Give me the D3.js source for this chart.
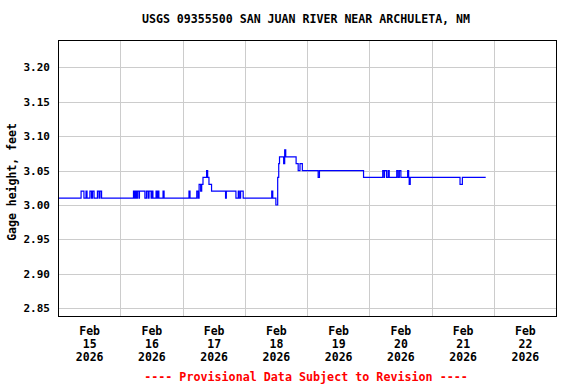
<!DOCTYPE html>
<html>
<head>
<meta charset="utf-8">
<script src="https://cdn.jsdelivr.net/npm/d3@7"></script>
<style>
  body { margin: 0; background: #fff; }
  text { font-family: "DejaVu Sans Mono", "Liberation Mono", monospace; font-weight: bold; }
  .grid line { stroke: #cccccc; stroke-width: 1; shape-rendering: crispEdges; }
  .grid .domain { display: none; }
</style>
</head>
<body>
<svg id="chart" width="576" height="384"></svg>
<script>
// gage height readings, hours since Feb 15 00:00, held until the next reading
const hours = [
  0, 8.9, 10.0, 10.8, 11.2, 12.3, 12.9, 13.3, 13.9, 15.2, 15.8, 16.2, 16.8,
  29.1, 29.5, 29.9, 30.3, 30.6, 31.2, 31.4, 33.5, 34.1, 34.7, 35.1, 35.9, 36.2, 36.6,
  37.8, 38.2, 38.6, 38.9, 40.5, 40.9,
  50.5, 50.9, 53.5, 54.0, 54.4, 55.0, 55.4, 55.9, 57.3, 57.7, 58.2, 59.2,
  64.6, 64.9, 68.6, 69.5, 69.9, 70.4, 71.4,
  82.4, 82.8, 84.0, 84.7, 85.1, 85.4, 87.0, 87.4, 87.8, 91.8, 92.6, 93.3, 94.2,
  100.3, 100.8, 117.8,
  125.2, 125.7, 125.9, 126.7, 127.3, 127.7, 130.6, 131.1, 131.6, 132.2,
  134.8, 135.2, 135.4, 135.8, 155.0, 155.9, 164.9
]
const gageFeet = [
  3.01, 3.02, 3.01, 3.02, 3.01, 3.02, 3.01, 3.02, 3.01, 3.02, 3.01, 3.02, 3.01,
  3.02, 3.01, 3.02, 3.01, 3.02, 3.01, 3.02, 3.01, 3.02, 3.01, 3.02, 3.01, 3.02, 3.01,
  3.02, 3.01, 3.02, 3.01, 3.02, 3.01,
  3.02, 3.01, 3.02, 3.01, 3.03, 3.02, 3.03, 3.04, 3.05, 3.04, 3.03, 3.02,
  3.01, 3.02, 3.01, 3.02, 3.01, 3.02, 3.01,
  3.02, 3.01, 3.00, 3.04, 3.06, 3.07, 3.06, 3.08, 3.07, 3.06, 3.05, 3.06, 3.05,
  3.04, 3.05, 3.04,
  3.05, 3.04, 3.05, 3.04, 3.05, 3.04, 3.05, 3.04, 3.05, 3.04,
  3.05, 3.04, 3.03, 3.04, 3.03, 3.04, 3.04
]
const dayTicks = [15, 16, 17, 18, 19, 20, 21, 22]
const yTicks = [2.85, 2.90, 2.95, 3.00, 3.05, 3.10, 3.15, 3.20]

const start = new Date(2026, 1, 15)
const atHour = h => new Date(start.getTime() + h * 3600 * 1000)

const data = hours.map((h, i) => ({ t: atHour(h), v: gageFeet[i] }))

const svg = d3.select('#chart')
const plotLeft = 58, plotTop = 40, plotRight = 556, plotBottom = 316
const width = plotRight - plotLeft
const height = plotBottom - plotTop

const x = d3.scaleTime()
  .domain([new Date(2026, 1, 15), new Date(2026, 1, 23)])
  .range([0, width])
const y = d3.scaleLinear()
  .domain([2.8388, 3.2396])
  .range([height, 0])

const chart = svg.append('g')
  .attr('transform', `translate(${plotLeft}, ${plotTop})`)

// grid lines at midnight and at y ticks
chart.append('g')
  .attr('class', 'grid')
  .attr('transform', `translate(0, ${height})`)
  .call(d3.axisBottom(x)
    .tickValues(d3.range(16, 23).map(d => new Date(2026, 1, d)))
    .tickSize(-height)
    .tickFormat(''))

chart.append('g')
  .attr('class', 'grid')
  .call(d3.axisLeft(y)
    .tickValues(yTicks)
    .tickSize(-width)
    .tickFormat(''))

const line = d3.line()
  .x(d => x(d.t))
  .y(d => y(d.v))
  .curve(d3.curveStepAfter)

chart.append('path')
  .datum(data)
  .attr('fill', 'none')
  .attr('stroke', '#0000ff')
  .attr('stroke-width', 1.2)
  .attr('d', line)

chart.append('rect')
  .attr('x', 0.5)
  .attr('y', 0.5)
  .attr('width', width)
  .attr('height', height)
  .attr('fill', 'none')
  .attr('stroke', '#000')
  .attr('stroke-width', 1)
  .attr('shape-rendering', 'crispEdges')

// y axis labels
const yAxis = chart.append('g')
  .call(d3.axisLeft(y)
    .tickValues(yTicks)
    .tickSize(0)
    .tickPadding(8)
    .tickFormat(d3.format('.2f')))
yAxis.select('.domain').remove()
yAxis.selectAll('text')
  .attr('font-size', 11)
  .attr('fill', '#000')
  .style('font-family', '"DejaVu Sans Mono", monospace')

// x axis labels, three lines at midday
const xAxis = chart.append('g')
  .attr('transform', `translate(0, ${height})`)
  .call(d3.axisBottom(x)
    .tickValues(dayTicks.map(d => new Date(2026, 1, d, 12)))
    .tickSize(0)
    .tickFormat(''))
xAxis.select('.domain').remove()
xAxis.selectAll('.tick').each(function (d) {
  const t = d3.select(this).append('text')
    .attr('fill', '#000')
    .attr('font-size', 11.5)
    .attr('text-anchor', 'middle')
  ;['Feb', String(d.getDate()), String(d.getFullYear())].forEach((s, i) => {
    t.append('tspan')
      .attr('x', 0)
      .attr('y', 19 + i * 13)
      .text(s)
  })
})

svg.append('text')
  .attr('x', 12)
  .attr('y', 182)
  .attr('transform', 'rotate(-90, 12, 182)')
  .attr('text-anchor', 'middle')
  .attr('dy', '0.35em')
  .attr('font-size', 11.5)
  .text('Gage height, feet')

svg.append('text')
  .attr('x', 306)
  .attr('y', 23)
  .attr('text-anchor', 'middle')
  .attr('font-size', 11.6)
  .text('USGS 09355500 SAN JUAN RIVER NEAR ARCHULETA, NM')

svg.append('text')
  .attr('x', 306)
  .attr('y', 381)
  .attr('text-anchor', 'middle')
  .attr('font-size', 11.7)
  .attr('fill', '#ff0000')
  .text('---- Provisional Data Subject to Revision ----')
</script>
</body>
</html>
